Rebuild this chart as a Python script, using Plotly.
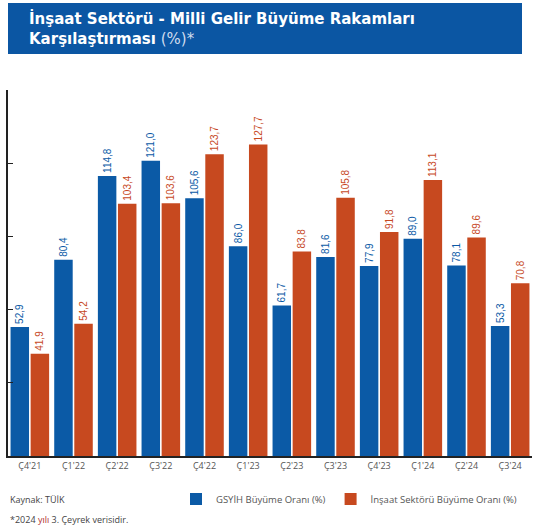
import plotly.graph_objects as go

categories = ["Ç4'21", "Ç1'22", "Ç2'22", "Ç3'22", "Ç4'22", "Ç1'23",
              "Ç2'23", "Ç3'23", "Ç4'23", "Ç1'24", "Ç2'24", "Ç3'24"]
gsyih = [52.9, 80.4, 114.8, 121.0, 105.6, 86.0, 61.7, 81.6, 77.9, 89.0, 78.1, 53.3]
insaat = [41.9, 54.2, 103.4, 103.6, 123.7, 127.7, 83.8, 105.8, 91.8, 113.1, 89.6, 70.8]
series_names = ["GSYİH Büyüme Oranı (%)", "İnşaat Sektörü Büyüme Oranı (%)"]

BLUE = "#0b5aa6"
ORANGE = "#c7491f"
W, H = 538, 530
L, R, T, B = 8, 6, 90, 74
pw, ph = W - L - R, H - T - B

def px(x):
    return (x - L) / pw

def py(y):
    return (H - B - y) / ph

fig = go.Figure()
for name, vals, col in [(series_names[0], gsyih, BLUE), (series_names[1], insaat, ORANGE)]:
    fig.add_trace(go.Bar(
        x=categories, y=vals, name=name, marker_color=col, marker_line_width=0,
        texttemplate="%{y:.1f}", textposition="outside", textangle=-90,
        constraintext="none",
        textfont=dict(color=col, size=10, family="Liberation Sans Narrow, Liberation Sans"),
        cliponaxis=False,
    ))

fig.update_layout(
    width=W, height=H,
    margin=dict(l=L, r=R, t=T, b=B),
    paper_bgcolor="white", plot_bgcolor="white",
    barmode="group", bargap=0.08, bargroupgap=0.08,
    separators=",.",
    font=dict(family="Open Sans", color="#444"),
    showlegend=True,
    legend=dict(orientation="h", x=px(522), xanchor="right", y=py(499), yanchor="middle",
                font=dict(size=9.5, color="#555"), itemwidth=30, tracegroupgap=0,
                bgcolor="rgba(0,0,0,0)"),
    xaxis=dict(showline=True, linecolor="#222", linewidth=1.5, ticks="",
               tickfont=dict(size=9, color="#555"), showgrid=False, fixedrange=True),
    yaxis=dict(range=[0, 150], tick0=0, dtick=30, showline=True, linecolor="#222",
               linewidth=1.5, ticks="inside", ticklen=5, tickcolor="#222",
               showticklabels=False, showgrid=False, zeroline=False),
    shapes=[dict(type="rect", xref="paper", yref="paper",
                 x0=px(8), x1=px(522), y0=py(54), y1=py(3),
                 fillcolor="#0b56a3", line_width=0, layer="above")],
    annotations=[
        dict(xref="paper", yref="paper", x=px(27), y=py(29), xanchor="left", yanchor="middle",
             align="left", showarrow=False,
             text="<b>İnşaat Sektörü - Milli Gelir Büyüme Rakamları<br>Karşılaştırması</b> <span style='color:#cfdcee'>(%)*</span>",
             font=dict(size=15, color="white", family="DejaVu Sans")),
        dict(xref="paper", yref="paper", x=px(8), y=py(499), xanchor="left", yanchor="middle",
             showarrow=False, text="Kaynak: TÜİK",
             font=dict(size=9, color="#444")),
        dict(xref="paper", yref="paper", x=px(8), y=py(519), xanchor="left", yanchor="middle",
             showarrow=False,
             text="*2024 <span style='color:#b03030'>yılı</span> 3. Çeyrek verisidir.",
             font=dict(size=9, color="#444")),
    ],
)

fig.write_html("out.html")
